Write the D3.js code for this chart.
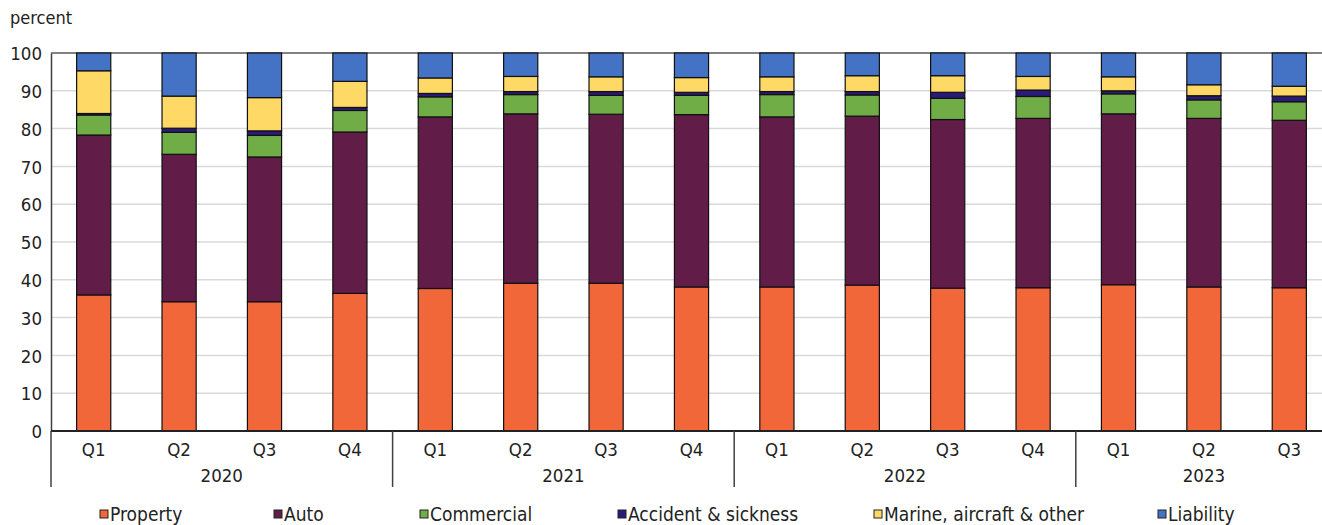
<!DOCTYPE html>
<html>
<head>
<meta charset="utf-8">
<script src="https://cdn.jsdelivr.net/npm/d3@7"></script>
<style>
  html, body { margin: 0; padding: 0; background: #fff; }
  svg { display: block; }
  text { font-family: "Liberation Sans Narrow", "Arial Narrow", "DejaVu Sans Condensed", sans-serif; fill: #222; }
</style>
</head>
<body>
<svg id="chart" width="1322" height="525"></svg>
<script>
// Quarters and their years
const quarters = ["Q1","Q2","Q3","Q4","Q1","Q2","Q3","Q4","Q1","Q2","Q3","Q4","Q1","Q2","Q3"];
const years = ["2020","2020","2020","2020","2021","2021","2021","2021","2022","2022","2022","2022","2023","2023","2023"];

// Share of premiums by line of business, percent
const property   = [36.0, 34.2, 34.2, 36.4, 37.7, 39.1, 39.1, 38.1, 38.1, 38.6, 37.8, 37.9, 38.7, 38.1, 37.9];
const auto       = [42.3, 39.0, 38.3, 42.7, 45.4, 44.8, 44.7, 45.6, 45.0, 44.7, 44.6, 44.8, 45.2, 44.6, 44.3];
const commercial = [5.3, 5.8, 5.7, 5.7, 5.3, 5.1, 5.0, 5.1, 5.9, 5.6, 5.6, 5.8, 5.3, 4.9, 4.9];
const accident   = [0.4, 1.1, 1.2, 0.8, 0.9, 0.8, 1.0, 0.8, 0.8, 0.9, 1.6, 1.7, 0.8, 1.1, 1.5];
const marine     = [11.3, 8.5, 8.8, 6.9, 4.1, 4.0, 3.9, 3.9, 3.9, 4.2, 4.4, 3.6, 3.7, 2.9, 2.6];
const liability  = [4.7, 11.4, 11.8, 7.5, 6.6, 6.2, 6.3, 6.5, 6.3, 6.0, 6.0, 6.2, 6.3, 8.4, 8.8];

const seriesNames = ["Property", "Auto", "Commercial", "Accident & sickness", "Marine, aircraft & other", "Liability"];
const seriesValues = [property, auto, commercial, accident, marine, liability];
const seriesColors = ["#F26739", "#611D47", "#70AD47", "#2A1A7A", "#FFD966", "#4472C4"];

const yTicks = [0, 10, 20, 30, 40, 50, 60, 70, 80, 90, 100];

const svg = d3.select("#chart");
const plotLeft = 51, plotRight = 1332, plotTop = 53, plotBottom = 431;

const keys = quarters.map((q, i) => years[i] + " " + q);
const rows = keys.map((k, i) => {
  const r = { key: k };
  seriesNames.forEach((s, j) => { r[s] = seriesValues[j][i]; });
  return r;
});

const x = d3.scaleBand().domain(keys).range([plotLeft, plotRight]).paddingInner(0.6).paddingOuter(0.3);
const y = d3.scaleLinear().domain([0, 100]).range([plotBottom, plotTop]);
const color = d3.scaleOrdinal().domain(seriesNames).range(seriesColors);

// gridlines
svg.append("g")
  .selectAll("line")
  .data(yTicks.filter(t => t > 0 && t < 100))
  .join("line")
  .attr("x1", plotLeft).attr("x2", 1322)
  .attr("y1", d => y(d)).attr("y2", d => y(d))
  .attr("stroke", "#d9d9d9").attr("stroke-width", 1.5);

// top border at 100
svg.append("line")
  .attr("x1", plotLeft).attr("x2", 1322)
  .attr("y1", y(100)).attr("y2", y(100))
  .attr("stroke", "#595959").attr("stroke-width", 1.5);

// stacked bars
const stacked = d3.stack().keys(seriesNames)(rows);
svg.append("g")
  .selectAll("g")
  .data(stacked)
  .join("g")
  .attr("fill", d => color(d.key))
  .selectAll("rect")
  .data(d => d)
  .join("rect")
  .attr("x", d => x(d.data.key))
  .attr("width", x.bandwidth())
  .attr("y", d => y(d[1]))
  .attr("height", d => y(d[0]) - y(d[1]))
  .attr("stroke", "#111")
  .attr("stroke-width", 1.2);

// y axis
const yAxis = svg.append("g")
  .attr("transform", `translate(${plotLeft},0)`)
  .call(d3.axisLeft(y).tickValues(yTicks).tickSize(0).tickPadding(9));
yAxis.select(".domain").attr("stroke", "#404040").attr("stroke-width", 1.5);
yAxis.selectAll("text")
  .style("font-size", "18.5px")
  .attr("fill", "#222")
  .attr("dy", "0.36em");

// x axis baseline
svg.append("line")
  .attr("x1", plotLeft).attr("x2", 1322)
  .attr("y1", plotBottom).attr("y2", plotBottom)
  .attr("stroke", "#222").attr("stroke-width", 2);

// quarter labels
svg.append("g")
  .selectAll("text")
  .data(keys)
  .join("text")
  .attr("x", d => x(d) + x.bandwidth() / 2)
  .attr("y", 456)
  .attr("text-anchor", "middle")
  .style("font-size", "18.5px")
  .text((d, i) => quarters[i]);

// year groups
const yearGroups = Array.from(d3.group(keys, d => d.slice(0, 4)), ([yr, ks]) => ({ yr, ks }));
const step = x.step();
svg.append("g")
  .selectAll("line")
  .data(yearGroups)
  .join("line")
  .attr("x1", d => x(d.ks[0]) - x.paddingOuter() * step)
  .attr("x2", d => x(d.ks[0]) - x.paddingOuter() * step)
  .attr("y1", plotBottom).attr("y2", 487)
  .attr("stroke", "#404040").attr("stroke-width", 1.5);

svg.append("g")
  .selectAll("text")
  .data(yearGroups)
  .join("text")
  .attr("x", d => (x(d.ks[0]) + x(d.ks[d.ks.length - 1]) + x.bandwidth()) / 2)
  .attr("y", 482)
  .attr("text-anchor", "middle")
  .style("font-size", "18.5px")
  .text(d => d.yr);

// unit label
svg.append("text")
  .attr("x", 10).attr("y", 24)
  .style("font-size", "18px")
  .text("percent");

// legend
const legendX = [100, 274, 420, 618, 874, 1158];
const legend = svg.append("g")
  .selectAll("g")
  .data(seriesNames)
  .join("g")
  .attr("transform", (d, i) => `translate(${legendX[i]},0)`);
legend.append("rect")
  .attr("x", 0).attr("y", 510)
  .attr("width", 8).attr("height", 8)
  .attr("fill", d => color(d))
  .attr("stroke", "#222").attr("stroke-width", 1);
legend.append("text")
  .attr("x", 10).attr("y", 521)
  .style("font-size", "19px")
  .text(d => d);
</script>
</body>
</html>
